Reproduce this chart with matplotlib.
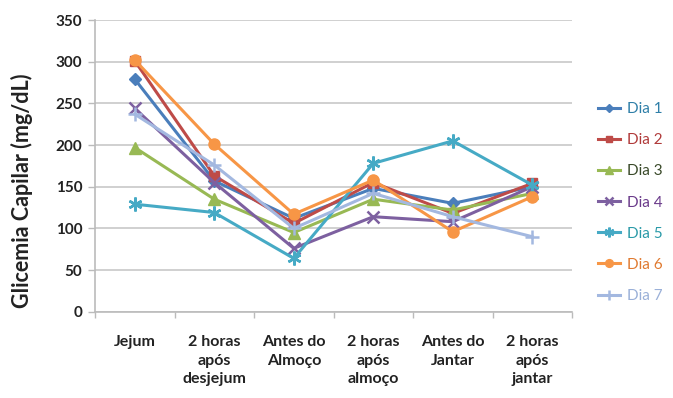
import matplotlib
matplotlib.use("Agg")
import matplotlib.pyplot as plt
import numpy as np

categories = ["Jejum", "2 horas\napós\ndesjejum", "Antes do\nAlmoço",
              "2 horas\napós\nalmoço", "Antes do\nJantar", "2 horas\napós\njantar"]
series_names = ["Dia 1", "Dia 2", "Dia 3", "Dia 4", "Dia 5", "Dia 6", "Dia 7"]
dia1 = [279, 157, 112, 148, 130, 150]
dia2 = [301, 163, 106, 155, 118, 154]
dia3 = [197, 135, 95, 135, 122, 142]
dia4 = [244, 155, 76, 114, 108, 150]
dia5 = [129, 119, 64, 178, 205, 152]
dia6 = [302, 201, 117, 158, 96, 138]
dia7 = [237, 176, 100, 142, 114, 90]
y_ticks = [0, 50, 100, 150, 200, 250, 300, 350]

series = [dia1, dia2, dia3, dia4, dia5, dia6, dia7]
colors = ["#4A7EBB", "#BE4B48", "#98B954", "#7D60A0", "#46AAC5", "#F79646", "#A3B8E0"]
text_colors = ["#2F7FA8", "#B03A3A", "#3A4A2A", "#6A3A8A", "#2A9AA8", "#E07A30", "#9AB0D8"]
markers = ["D", "s", "^", "x", (6, 2, 0), "o", "+"]
msizes = [6, 7, 8, 8, 10, 8, 10]

plt.rcParams["font.family"] = ["Lato", "DejaVu Sans"]

fig = plt.figure(figsize=(6.73, 3.98), dpi=100)
ax = fig.add_axes([0.1412, 0.2168, 0.7088, 0.7329])

x = np.arange(len(categories))
handles = []
for vals, c, m, ms, name in zip(series, colors, markers, msizes, series_names):
    h, = ax.plot(x, vals, color=c, lw=2.2, marker=m, markersize=ms,
                 markeredgewidth=1.8 if m in ("x", "+") or isinstance(m, tuple) else 1,
                 markeredgecolor=c, markerfacecolor=c, label=name, zorder=3)
    handles.append(h)

ax.set_xlim(-0.5, len(categories) - 0.5)
ax.set_ylim(0, 350)
ax.set_yticks(y_ticks)
ax.set_yticklabels([str(v) for v in y_ticks], fontsize=11, fontweight="bold", color="#222222")
ax.set_xticks(x)
ax.set_xticklabels(categories, fontsize=11.5, fontweight="bold", color="#222222",
                   linespacing=1.4, va="top")
ax.tick_params(axis="x", which="major", length=0, pad=17)
ax.set_xticks(np.arange(-0.5, len(categories)), minor=True)
ax.tick_params(axis="x", which="minor", length=4, color="#BBBBBB", width=1)
ax.tick_params(axis="y", length=5, color="#BBBBBB", width=1, pad=4)

ax.grid(axis="y", color="#C8C8C8", lw=1.2, zorder=0)
for s in ("top", "right"):
    ax.spines[s].set_visible(False)
ax.spines["left"].set_color("#BBBBBB")
ax.spines["bottom"].set_color("#BBBBBB")
ax.spines["left"].set_linewidth(1.2)
ax.spines["bottom"].set_linewidth(1.2)

ax.set_ylabel("Glicemia Capilar (mg/dL)", fontsize=15.5, fontweight="bold",
              color="#222222", va="center")
ax.yaxis.set_label_coords(-0.153, 0.414)

leg = fig.legend(handles=handles, loc="upper left", bbox_to_anchor=(0.872, 0.77),
                 frameon=False, fontsize=11, handlelength=1.5, labelspacing=1.12,
                 handletextpad=0.45, markerscale=0.7, borderpad=0.2)
for t, c in zip(leg.get_texts(), text_colors):
    t.set_color(c)

fig.savefig("out.png", dpi=100)
